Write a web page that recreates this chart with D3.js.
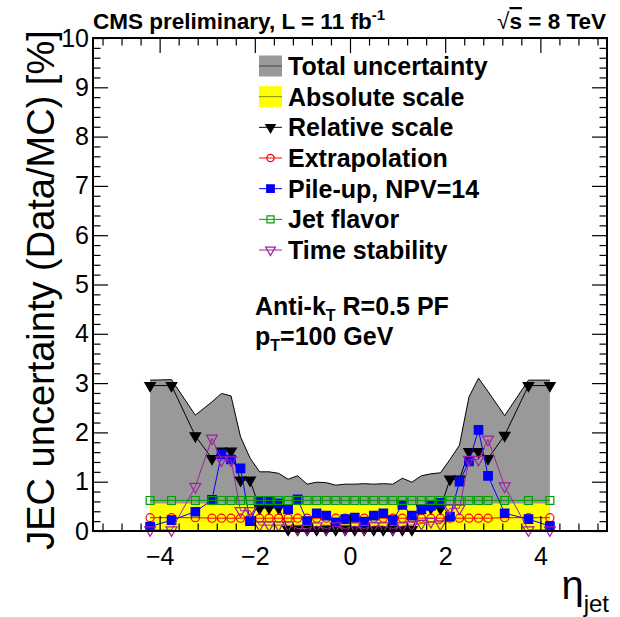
<!DOCTYPE html>
<html>
<head>
<meta charset="utf-8">
<script src="https://cdn.jsdelivr.net/npm/d3@7"></script>
<style>
  body { margin: 0; background: #fff; }
  text { font-family: 'Liberation Sans', Arial, Helvetica, sans-serif; }
</style>
</head>
<body>
<svg id="chart" width="620" height="617"></svg>
<script>
// eta bin centres
var etaBins = [-4.2, -3.75, -3.25,
  -2.9, -2.7, -2.5, -2.3, -2.1, -1.9, -1.7, -1.5, -1.3, -1.1, -0.9, -0.7, -0.5, -0.3, -0.1,
  0.1, 0.3, 0.5, 0.7, 0.9, 1.1, 1.3, 1.5, 1.7, 1.9, 2.1, 2.3, 2.5, 2.7, 2.9,
  3.25, 3.75, 4.2];

var totalUnc = [3.06, 3.07, 2.35,
  2.62, 2.79, 2.74, 1.91, 1.48, 1.20, 1.20, 1.17, 1.05, 1.12, 0.95, 0.99, 0.98, 0.93, 0.95,
  0.95, 0.96, 0.95, 0.96, 0.95, 1.07, 0.99, 1.12, 1.16, 1.18, 1.45, 1.74, 2.72, 3.10, 2.83,
  2.34, 3.06, 3.06];

var absoluteScale = [0.56, 0.56, 0.56,
  0.56, 0.56, 0.56, 0.56, 0.56, 0.56, 0.56, 0.56, 0.56, 0.56, 0.56, 0.56, 0.56, 0.56, 0.56,
  0.56, 0.56, 0.56, 0.56, 0.56, 0.56, 0.56, 0.56, 0.56, 0.56, 0.56, 0.56, 0.56, 0.56, 0.56,
  0.56, 0.56, 0.56];

var relativeScale = [2.95, 2.95, 1.93,
  1.47, 1.62, 1.62, 1.03, 1.03, 0.46, 0.47, 0.47, 0.03, 0.03, 0.03, 0.03, 0.03, 0.03, 0.03,
  0.03, 0.03, 0.03, 0.03, 0.03, 0.03, 0.03, 0.47, 0.47, 0.46, 1.05, 1.05, 1.61, 1.61, 1.47,
  1.94, 2.95, 2.95];

var extrapolation = [0.27, 0.27, 0.27,
  0.26, 0.26, 0.26, 0.26, 0.26, 0.26, 0.26, 0.26, 0.26, 0.26, 0.26, 0.26, 0.26, 0.26, 0.26,
  0.26, 0.26, 0.26, 0.26, 0.26, 0.26, 0.26, 0.26, 0.26, 0.26, 0.26, 0.26, 0.26, 0.26, 0.26,
  0.27, 0.27, 0.27];

var pileUp = [0.09, 0.22, 0.39,
  0.63, 1.56, 1.45, 1.27, 0.20, 0.60, 0.60, 0.56, 0.44, 0.64, 0.20, 0.36, 0.31, 0.17, 0.24,
  0.27, 0.19, 0.31, 0.36, 0.22, 0.53, 0.31, 0.44, 0.51, 0.57, 0.29, 1.00, 1.41, 2.05, 1.12,
  0.36, 0.24, 0.10];

var jetFlavor = [0.62, 0.62, 0.62,
  0.62, 0.62, 0.62, 0.62, 0.62, 0.62, 0.62, 0.62, 0.62, 0.62, 0.62, 0.62, 0.62, 0.62, 0.62,
  0.62, 0.62, 0.62, 0.62, 0.62, 0.62, 0.62, 0.62, 0.62, 0.62, 0.62, 0.62, 0.62, 0.62, 0.62,
  0.62, 0.62, 0.62];

var timeStability = [0.02, 0.02, 0.90,
  1.88, 1.44, 1.44, 0.41, 0.41, 0.12, 0.12, 0.12, 0.12, 0.05, 0.05, 0.10, 0.05, 0.10, 0.05,
  0.10, 0.05, 0.10, 0.10, 0.05, 0.10, 0.12, 0.15, 0.19, 0.14, 0.46, 0.46, 1.45, 1.45, 1.86,
  0.91, 0.02, 0.02];

var xMajorTicks = [-4, -2, 0, 2, 4];
var yMajorTicks = [0, 1, 2, 3, 4, 5, 6, 7, 8, 9, 10];

var legendLabels = ['Total uncertainty', 'Absolute scale', 'Relative scale', 'Extrapolation',
  'Pile-up, NPV=14', 'Jet flavor', 'Time stability'];

(function () {
  'use strict';

  var frameLeft = 93, frameRight = 607, frameTop = 38, frameBottom = 531,
    majorLen = 15, minorLen = 7.5;

  var svg = d3.select('#chart');

  var x = d3.scaleLinear().domain([-5.4, 5.4]).range([frameLeft, frameRight]);
  var y = d3.scaleLinear().domain([0, 10]).range([frameBottom, frameTop]);

  var xMinorTicks = d3.range(-13, 14).map(function (i) { return +(i * 0.4).toFixed(1); })
    .filter(function (v) { return xMajorTicks.indexOf(v) < 0; });
  var yMinorTicks = d3.range(0, 51).map(function (i) { return +(i * 0.2).toFixed(1); })
    .filter(function (v) { return yMajorTicks.indexOf(v) < 0; });

  var series = [
    { name: 'relative', values: relativeScale, color: '#000000', symbol: d3.symbolTriangle, size: 48, fill: true, rotate: 180 },
    { name: 'extrap', values: extrapolation, color: '#ff0000', symbol: d3.symbolCircle, size: 52, fill: false, rotate: 0 },
    { name: 'pileup', values: pileUp, color: '#0000ff', symbol: d3.symbolSquare, size: 72, fill: true, rotate: 0 },
    { name: 'flavor', values: jetFlavor, color: '#00a000', symbol: d3.symbolSquare, size: 62, fill: false, rotate: 0 },
    { name: 'time', values: timeStability, color: '#a020a0', symbol: d3.symbolTriangle, size: 52, fill: false, rotate: 180 }
  ];

  function pts(values) {
    return etaBins.map(function (e, i) { return [e, values[i]]; });
  }

  var plot = svg.append('g').attr('class', 'plot');

  // total uncertainty band
  var area = d3.area()
    .x(function (d) { return x(d[0]); })
    .y0(y(0))
    .y1(function (d) { return y(d[1]); });
  var line = d3.line()
    .x(function (d) { return x(d[0]); })
    .y(function (d) { return y(d[1]); });

  plot.append('path')
    .datum(pts(totalUnc))
    .attr('d', area)
    .attr('fill', '#999999');
  plot.append('path')
    .datum(pts(totalUnc))
    .attr('d', line)
    .attr('fill', 'none')
    .attr('stroke', '#000')
    .attr('stroke-width', 1);

  // absolute scale band
  plot.append('path')
    .datum(pts(absoluteScale))
    .attr('d', area)
    .attr('fill', '#ffff00');

  series.forEach(function (s) {
    var g = plot.append('g').attr('class', 'series-' + s.name);
    g.append('path')
      .datum(pts(s.values))
      .attr('d', line)
      .attr('fill', 'none')
      .attr('stroke', s.color)
      .attr('stroke-width', 1);
    g.selectAll('path.marker')
      .data(pts(s.values))
      .enter()
      .append('path')
      .attr('class', 'marker')
      .attr('d', d3.symbol().type(s.symbol).size(s.size))
      .attr('transform', function (d) {
        return 'translate(' + [x(d[0]), y(d[1])] + ') rotate(' + s.rotate + ')';
      })
      .attr('fill', s.fill ? s.color : 'none')
      .attr('stroke', s.color)
      .attr('stroke-width', 1.2);
  });

  // axes, ticks pointing into the frame
  function addAxis(axis, tx, ty, ticks, len, labelled) {
    var g = svg.append('g')
      .attr('transform', 'translate(' + [tx, ty] + ')')
      .call(axis.tickValues(ticks).tickSizeInner(-len).tickSizeOuter(0)
        .tickFormat(labelled ? d3.format('d') : function () { return ''; }));
    g.select('.domain').remove();
    g.selectAll('.tick line').attr('stroke', '#000').attr('stroke-width', 1.2);
    return g;
  }

  var xb = addAxis(d3.axisBottom(x).tickPadding(16), 0, frameBottom, xMajorTicks, majorLen, true);
  addAxis(d3.axisBottom(x), 0, frameBottom, xMinorTicks, minorLen, false);
  addAxis(d3.axisTop(x), 0, frameTop, xMajorTicks, majorLen, false);
  addAxis(d3.axisTop(x), 0, frameTop, xMinorTicks, minorLen, false);
  var yl = addAxis(d3.axisLeft(y).tickPadding(4), frameLeft, 0, yMajorTicks, majorLen, true);
  addAxis(d3.axisLeft(y), frameLeft, 0, yMinorTicks, minorLen, false);
  addAxis(d3.axisRight(y), frameRight, 0, yMajorTicks, majorLen, false);
  addAxis(d3.axisRight(y), frameRight, 0, yMinorTicks, minorLen, false);

  xb.selectAll('text').attr('font-size', 25).attr('fill', '#000')
    .attr('font-family', "'Liberation Sans', Arial, sans-serif");
  yl.selectAll('text').attr('font-size', 25).attr('fill', '#000')
    .attr('font-family', "'Liberation Sans', Arial, sans-serif");

  svg.append('rect')
    .attr('x', frameLeft)
    .attr('y', frameTop)
    .attr('width', frameRight - frameLeft)
    .attr('height', frameBottom - frameTop)
    .attr('fill', 'none')
    .attr('stroke', '#000')
    .attr('stroke-width', 2);

  // axis titles
  svg.append('text')
    .attr('transform', 'translate(54,290) rotate(-90)')
    .attr('text-anchor', 'middle')
    .attr('font-size', 38)
    .text('JEC uncertainty (Data/MC) [%]');

  var xt = svg.append('text')
    .attr('x', 609)
    .attr('y', 599)
    .attr('text-anchor', 'end');
  xt.append('tspan').attr('font-size', 40).text('η');
  xt.append('tspan').attr('font-size', 24).attr('dy', 13).text('jet');

  // header
  var hdr = svg.append('text')
    .attr('x', 93)
    .attr('y', 29)
    .attr('font-size', 22.5)
    .attr('font-weight', 'bold');
  hdr.append('tspan').text('CMS preliminary, L = 11 fb');
  hdr.append('tspan').attr('font-size', 15).attr('dy', -9).text('-1');

  var rs = svg.append('text')
    .attr('x', 606)
    .attr('y', 29)
    .attr('text-anchor', 'end')
    .attr('font-size', 22.5)
    .attr('font-weight', 'bold');
  rs.append('tspan').attr('font-weight', 'normal').text('√');
  rs.append('tspan').style('text-decoration', 'overline').text('s');
  rs.append('tspan').text(' = 8 TeV');

  // jet algorithm labels
  var l1 = svg.append('text')
    .attr('x', 255).attr('y', 315)
    .attr('font-size', 25).attr('font-weight', 'bold');
  l1.append('tspan').text('Anti-k');
  l1.append('tspan').attr('font-size', 16).attr('dy', 6).text('T');
  l1.append('tspan').attr('dy', -6).text(' R=0.5 PF');

  var l2 = svg.append('text')
    .attr('x', 255).attr('y', 345)
    .attr('font-size', 25).attr('font-weight', 'bold');
  l2.append('tspan').text('p');
  l2.append('tspan').attr('font-size', 16).attr('dy', 6).text('T');
  l2.append('tspan').attr('dy', -6).text('=100 GeV');

  // legend
  var legendY = d3.scaleLinear().domain([0, 6]).range([66, 250]);
  var legend = svg.append('g').attr('class', 'legend');
  var boxX0 = 259, boxX1 = 282;

  legendLabels.forEach(function (label, i) {
    var cy = legendY(i);
    var row = legend.append('g');
    if (i < 2) {
      row.append('rect')
        .attr('x', boxX0).attr('y', cy - 10.5)
        .attr('width', boxX1 - boxX0).attr('height', 21)
        .attr('fill', i === 0 ? '#999999' : '#ffff00');
      row.append('line')
        .attr('x1', boxX0).attr('x2', boxX1)
        .attr('y1', cy).attr('y2', cy)
        .attr('stroke', i === 0 ? '#444444' : '#8a8a00')
        .attr('stroke-width', 1);
    } else {
      var s = series[i - 2];
      row.append('line')
        .attr('x1', boxX0).attr('x2', boxX1)
        .attr('y1', cy).attr('y2', cy)
        .attr('stroke', s.color)
        .attr('stroke-width', 1);
      row.append('path')
        .attr('d', d3.symbol().type(s.symbol).size(s.size * 0.8))
        .attr('transform', 'translate(' + [(boxX0 + boxX1) / 2, cy] + ') rotate(' + s.rotate + ')')
        .attr('fill', s.fill ? s.color : 'none')
        .attr('stroke', s.color)
        .attr('stroke-width', 1.2);
    }
    row.append('text')
      .attr('x', 288)
      .attr('y', cy + 9)
      .attr('font-size', 25)
      .attr('font-weight', 'bold')
      .text(label);
  });
}());
</script>
</body>
</html>
